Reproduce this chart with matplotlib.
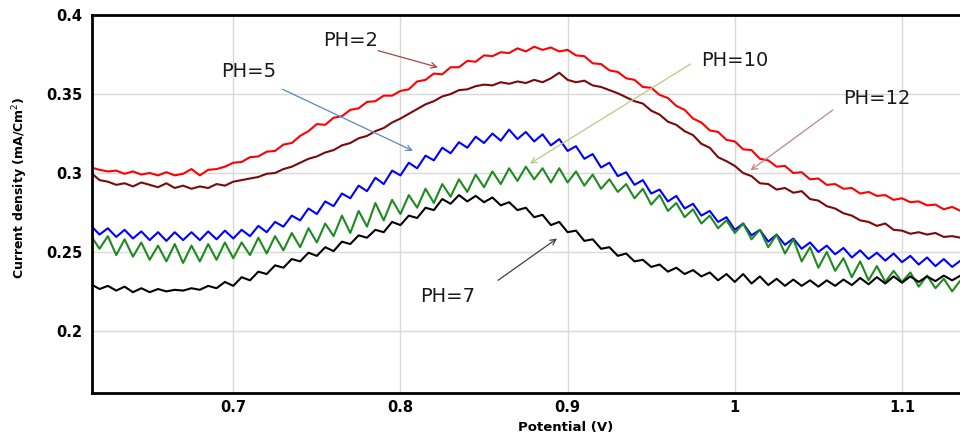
import numpy as np
import matplotlib
matplotlib.use("Agg")
import matplotlib.pyplot as plt

# potential axis, sampled every 5 mV
potential = np.round(np.arange(0.615, 1.1351, 0.005), 3)

ph2 = [0.3035, 0.3020, 0.3010, 0.3015, 0.2995, 0.3010, 0.2990, 0.3000, 0.2985, 0.3005,
       0.2985, 0.2995, 0.3025, 0.2985, 0.3020, 0.3025, 0.3040, 0.3065, 0.3070, 0.3100,
       0.3105, 0.3135, 0.3140, 0.3180, 0.3190, 0.3235, 0.3265, 0.3310, 0.3305, 0.3350,
       0.3360, 0.3400, 0.3410, 0.3450, 0.3455, 0.3490, 0.3490, 0.3520, 0.3530, 0.3580,
       0.3590, 0.3630, 0.3625, 0.3670, 0.3670, 0.3710, 0.3705, 0.3745, 0.3740, 0.3765,
       0.3760, 0.3790, 0.3770, 0.3800, 0.3780, 0.3795, 0.3770, 0.3780, 0.3745, 0.3740,
       0.3695, 0.3690, 0.3650, 0.3640, 0.3600, 0.3590, 0.3545, 0.3540, 0.3495, 0.3475,
       0.3425, 0.3400, 0.3345, 0.3320, 0.3270, 0.3260, 0.3210, 0.3200, 0.3150, 0.3145,
       0.3090, 0.3080, 0.3040, 0.3045, 0.3000, 0.3005, 0.2960, 0.2965, 0.2925, 0.2930,
       0.2900, 0.2905, 0.2870, 0.2880, 0.2855, 0.2860, 0.2830, 0.2840, 0.2815, 0.2820,
       0.2795, 0.2800, 0.2770, 0.2785, 0.2760]

ph12 = [0.3000, 0.2955, 0.2945, 0.2925, 0.2935, 0.2915, 0.2940, 0.2925, 0.2910, 0.2935,
        0.2905, 0.2920, 0.2900, 0.2915, 0.2905, 0.2930, 0.2920, 0.2945, 0.2955, 0.2965,
        0.2975, 0.2995, 0.3000, 0.3025, 0.3040, 0.3065, 0.3090, 0.3105, 0.3130, 0.3145,
        0.3175, 0.3190, 0.3220, 0.3235, 0.3265, 0.3285, 0.3320, 0.3345, 0.3375, 0.3405,
        0.3435, 0.3455, 0.3485, 0.3500, 0.3525, 0.3530, 0.3550, 0.3560, 0.3555, 0.3575,
        0.3565, 0.3580, 0.3570, 0.3590, 0.3575, 0.3600, 0.3635, 0.3590, 0.3575, 0.3585,
        0.3555, 0.3545, 0.3525, 0.3505, 0.3480, 0.3455, 0.3440, 0.3395, 0.3370, 0.3325,
        0.3305, 0.3265, 0.3240, 0.3185, 0.3160, 0.3100, 0.3075, 0.3045, 0.3000, 0.2980,
        0.2935, 0.2930, 0.2895, 0.2905, 0.2875, 0.2885, 0.2835, 0.2825, 0.2790, 0.2775,
        0.2745, 0.2730, 0.2700, 0.2690, 0.2665, 0.2680, 0.2640, 0.2635, 0.2615, 0.2625,
        0.2610, 0.2620, 0.2595, 0.2600, 0.2590]

ph5 = [0.2665, 0.2610, 0.2650, 0.2595, 0.2640, 0.2585, 0.2630, 0.2575, 0.2625, 0.2570,
       0.2625, 0.2575, 0.2625, 0.2575, 0.2630, 0.2580, 0.2635, 0.2585, 0.2640, 0.2600,
       0.2665, 0.2625, 0.2690, 0.2660, 0.2730, 0.2700, 0.2775, 0.2740, 0.2820, 0.2790,
       0.2870, 0.2840, 0.2920, 0.2885, 0.2970, 0.2930, 0.3015, 0.2985, 0.3065, 0.3030,
       0.3110, 0.3080, 0.3160, 0.3125, 0.3195, 0.3160, 0.3230, 0.3190, 0.3250, 0.3205,
       0.3275, 0.3215, 0.3260, 0.3200, 0.3245, 0.3175, 0.3215, 0.3140, 0.3170, 0.3090,
       0.3120, 0.3035, 0.3065, 0.2980, 0.3005, 0.2925, 0.2955, 0.2870, 0.2895, 0.2820,
       0.2855, 0.2775, 0.2805, 0.2730, 0.2760, 0.2690, 0.2720, 0.2640, 0.2680, 0.2605,
       0.2640, 0.2565, 0.2610, 0.2545, 0.2585, 0.2520, 0.2560, 0.2500, 0.2540, 0.2485,
       0.2525, 0.2465, 0.2510, 0.2455, 0.2495, 0.2445, 0.2490, 0.2435, 0.2475, 0.2420,
       0.2465, 0.2410, 0.2455, 0.2405, 0.2445]

ph10 = [0.2600, 0.2520, 0.2600, 0.2480, 0.2580, 0.2470, 0.2560, 0.2450, 0.2540, 0.2440,
        0.2550, 0.2430, 0.2540, 0.2440, 0.2550, 0.2450, 0.2560, 0.2460, 0.2560, 0.2480,
        0.2590, 0.2490, 0.2600, 0.2510, 0.2620, 0.2530, 0.2650, 0.2560, 0.2680, 0.2600,
        0.2730, 0.2620, 0.2760, 0.2660, 0.2810, 0.2700, 0.2830, 0.2740, 0.2860, 0.2780,
        0.2900, 0.2810, 0.2930, 0.2850, 0.2960, 0.2880, 0.2990, 0.2910, 0.3010, 0.2930,
        0.3030, 0.2950, 0.3040, 0.2960, 0.3030, 0.2940, 0.3030, 0.2940, 0.3010, 0.2920,
        0.2990, 0.2900, 0.2960, 0.2880, 0.2930, 0.2840, 0.2900, 0.2800, 0.2860, 0.2760,
        0.2810, 0.2720, 0.2770, 0.2680, 0.2730, 0.2650, 0.2700, 0.2620, 0.2680, 0.2580,
        0.2640, 0.2530, 0.2610, 0.2490, 0.2580, 0.2440, 0.2530, 0.2400, 0.2500, 0.2380,
        0.2460, 0.2340, 0.2440, 0.2320, 0.2410, 0.2310, 0.2380, 0.2310, 0.2370, 0.2280,
        0.2350, 0.2270, 0.2330, 0.2250, 0.2320]

ph7 = [0.2295, 0.2265, 0.2285, 0.2255, 0.2280, 0.2245, 0.2270, 0.2245, 0.2265, 0.2250,
       0.2260, 0.2255, 0.2270, 0.2260, 0.2285, 0.2270, 0.2310, 0.2285, 0.2340, 0.2320,
       0.2375, 0.2360, 0.2415, 0.2400, 0.2455, 0.2440, 0.2495, 0.2475, 0.2530, 0.2505,
       0.2565, 0.2550, 0.2605, 0.2590, 0.2640, 0.2625, 0.2690, 0.2670, 0.2730, 0.2715,
       0.2780, 0.2765, 0.2835, 0.2805, 0.2860, 0.2820, 0.2855, 0.2815, 0.2845, 0.2795,
       0.2815, 0.2765, 0.2780, 0.2720, 0.2735, 0.2670, 0.2690, 0.2625, 0.2635, 0.2570,
       0.2580, 0.2520, 0.2530, 0.2475, 0.2490, 0.2440, 0.2450, 0.2405, 0.2420, 0.2375,
       0.2400, 0.2360, 0.2385, 0.2345, 0.2370, 0.2320, 0.2360, 0.2310, 0.2360, 0.2300,
       0.2345, 0.2290, 0.2330, 0.2285, 0.2325, 0.2285, 0.2320, 0.2280, 0.2320, 0.2285,
       0.2325, 0.2290, 0.2335, 0.2295, 0.2340, 0.2300, 0.2345, 0.2305, 0.2345, 0.2310,
       0.2345, 0.2315, 0.2350, 0.2320, 0.2350]

xticks = [0.7, 0.8, 0.9, 1.0, 1.1]
xticklabels = ["0.7", "0.8", "0.9", "1", "1.1"]
yticks = [0.2, 0.25, 0.3, 0.35, 0.4]
yticklabels = ["0.2", "0.25", "0.3", "0.35", "0.4"]

fig = plt.figure(figsize=(9.6, 4.33), dpi=100)
ax = fig.add_axes([0.096, 0.093, 0.904, 0.872])

ax.plot(potential, ph2, color="#ff0000", lw=1.5)
ax.plot(potential, ph12, color="#7a0a0a", lw=1.5)
ax.plot(potential, ph5, color="#0000ff", lw=1.5)
ax.plot(potential, ph10, color="#1f8a1f", lw=1.5)
ax.plot(potential, ph7, color="#000000", lw=1.5)

ax.set_xlim(0.6156, 1.1347)
ax.set_ylim(0.1608, 0.4)
ax.set_xticks(xticks)
ax.set_xticklabels(xticklabels)
ax.set_yticks(yticks)
ax.set_yticklabels(yticklabels)
ax.tick_params(axis="y", length=0, labelsize=10.5, pad=7)
ax.tick_params(axis="x", length=0, labelsize=10.5, pad=5)
for lab in ax.get_xticklabels() + ax.get_yticklabels():
    lab.set_fontweight("bold")
ax.grid(True, color="#d9d9d9", lw=1)
ax.set_axisbelow(True)

for s in ["left", "bottom", "top"]:
    ax.spines[s].set_linewidth(2)
ax.spines["right"].set_visible(False)

ax.set_xlabel("Potential (V)", fontsize=9.5, fontweight="bold")
ax.xaxis.set_label_coords(0.545, -0.075)
ax.set_ylabel("Current density (mA/Cm$^2$)", fontsize=9, fontweight="bold")
ax.yaxis.set_label_coords(-0.072, 0.542)

# annotations: label, text pos, arrow start, arrow tip, arrow colour
notes = [
    ("PH=2", (0.770, 0.3842), (0.785, 0.378), (0.824, 0.3665), "#a04848"),
    ("PH=5", (0.709, 0.364), (0.728, 0.3538), (0.809, 0.3133), "#5a88c8"),
    ("PH=10", (1.000, 0.3715), (0.975, 0.370), (0.876, 0.305), "#b8c88a"),
    ("PH=12", (1.085, 0.3475), (1.060, 0.341), (1.008, 0.3006), "#c08585"),
    ("PH=7", (0.828, 0.2215), (0.857, 0.231), (0.895, 0.2595), "#404040"),
]
for label, tpos, start, tip, col in notes:
    ax.text(tpos[0], tpos[1], label, fontsize=14, ha="center", va="center",
            color="#1a1a1a")
    ax.annotate("", xy=tip, xytext=start,
                arrowprops=dict(arrowstyle="->", color=col, lw=0.9))

fig.savefig("out.png", dpi=100)
